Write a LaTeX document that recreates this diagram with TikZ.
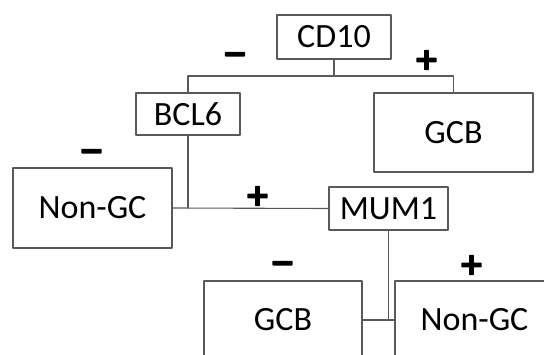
\documentclass[tikz,border=0pt]{standalone}
\usepackage{fontspec}
\setmainfont{Carlito}
\newfontfamily\signfont[FakeBold=4.5]{DejaVu Sans Bold}
\usetikzlibrary{positioning}
\tikzset{flow/.style={
  x=1pt,y=-1pt,
  line join=round,line cap=round
},
box/.style={draw=black!65,line width=1.1pt,fill=white,inner sep=0pt,
  font=\fontsize{34}{38}\selectfont},
link/.style={draw=black!65,line width=1.1pt},
sign/.style={inner sep=0pt,font=\signfont\fontsize{30}{34}\selectfont}
}

\begin{document}
\begin{tikzpicture}[flow]
  \useasboundingbox (0,0) rectangle (544,354);
  \clip (0,0) rectangle (544,354);
  \node[box,minimum width=114pt,minimum height=44pt] (cd10) at (334,37) {CD10};
  \node[box,minimum width=104pt,minimum height=42pt] (bcl6) at (188,114) {BCL6};
  \node[box,minimum width=159pt,minimum height=79pt] (gcbTop) at (453.5,132.5) {GCB};
  \node[box,minimum width=159pt,minimum height=80pt] (nongcLeft) at (92.5,208) {Non-GC};
  \node[box,minimum width=119pt,minimum height=43pt] (mum1) at (388.5,208.5) {MUM1};
  \node[box,minimum width=158pt,minimum height=78pt] (gcbLow) at (283,320) {GCB};
  \node[box,minimum width=159pt,minimum height=78pt] (nongcLow) at (474.5,320) {Non-GC};
  \coordinate (fork) at (334,76);
  % CD10 split
  \draw[link] (cd10.south) -- (fork);
  \draw[link] (bcl6.north) |- (fork) -| (gcbTop.north);
  % BCL6 split
  \draw[link] (nongcLeft.east) -- (mum1.west);
  \draw[link] (bcl6.south) -- (bcl6.south |- nongcLeft.east);
  % MUM1 split
  \draw[link] (gcbLow.east) -- (nongcLow.west);
  \draw[link] (mum1.south) -- (mum1.south |- gcbLow.east);
  \node[sign] (m1) at (235,58) {−};
  \node[sign] (p1) at (426.5,60) {+};
  \node[sign] (m2) at (91.5,155) {−};
  \node[sign] (p2) at (257.5,196) {+};
  \node[sign] (m3) at (282.5,267) {−};
  \node[sign] (p3) at (471.5,265) {+};
\end{tikzpicture}
\end{document}
